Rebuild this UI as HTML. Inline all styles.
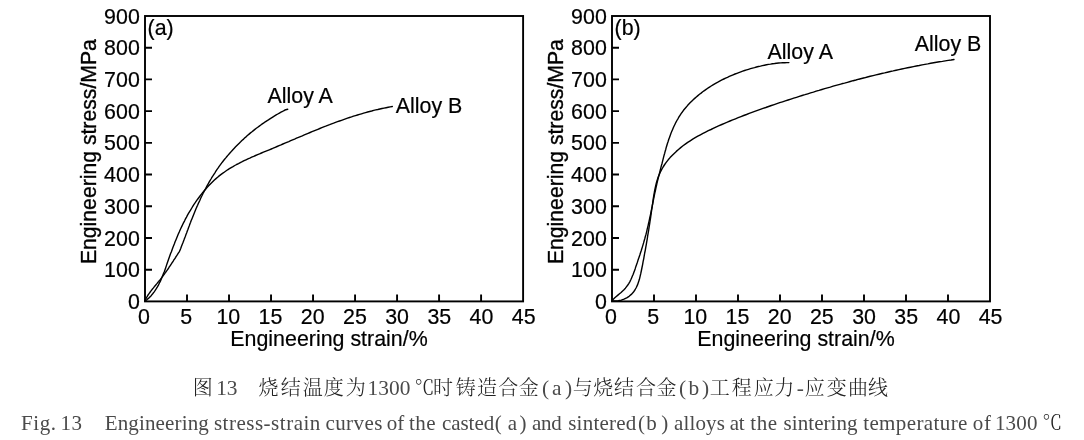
<!DOCTYPE html>
<html lang="zh">
<head>
<meta charset="utf-8">
<title>Fig. 13</title>
<style>
html,body{margin:0;padding:0;background:#fff;}
body{width:1084px;height:440px;overflow:hidden;}
svg{display:block;}
svg .lab text{font-family:"Liberation Sans","Noto Sans CJK SC",sans-serif;font-size:21.4px;fill:#000;stroke:#000;stroke-width:0.2px;}
svg .cn{font-family:"Liberation Serif","Noto Serif CJK SC",serif;font-size:20px;font-weight:300;fill:#222;}
svg .en{font-family:"Liberation Serif","Noto Serif CJK SC",serif;font-size:21px;fill:#4a4a4a;}
svg .dg{font-family:"Liberation Serif","Noto Serif CJK SC",serif;font-size:21.4px;fill:#4a4a4a;}
</style>
</head>
<body>
<svg width="1084" height="440" viewBox="0 0 1084 440" role="img" aria-label="Engineering stress-strain curves">
<rect width="1084" height="440" fill="#fff"/>
<rect x="145.0" y="16.0" width="378.10" height="285.40" fill="none" stroke="#000" stroke-width="1.9"/>
<path d="M187.01,301.4v-7M229.02,301.4v-7M271.03,301.4v-7M313.04,301.4v-7M355.06,301.4v-7M397.07,301.4v-7M439.08,301.4v-7M481.09,301.4v-7M145.0,269.69h7M145.0,237.98h7M145.0,206.27h7M145.0,174.56h7M145.0,142.84h7M145.0,111.13h7M145.0,79.42h7M145.0,47.71h7" fill="none" stroke="#000" stroke-width="1.9"/>
<path d="M145.0,301.0L145.3,299.9 145.8,299.0 146.2,298.1 146.7,297.2 147.3,296.3 147.8,295.4 148.4,294.5 149.0,293.7 149.6,292.8 150.2,292.0 150.8,291.2 151.4,290.3 152.1,289.5 152.7,288.7 153.4,287.9 154.0,287.1 154.7,286.3 155.3,285.5 156.0,284.7 156.7,283.9 157.3,283.1 158.0,282.3 158.7,281.5 159.3,280.7 160.0,279.9 160.6,279.1 161.2,278.3 161.9,277.4 162.5,276.6 163.1,275.8 163.8,274.9 164.4,274.1 165.0,273.2 165.6,272.4 166.2,271.5 166.8,270.7 167.4,269.8 168.0,269.0 168.6,268.1 169.1,267.2 169.7,266.3 170.3,265.5 170.9,264.6 171.5,263.7 172.0,262.8 172.6,262.0 173.2,261.1 173.7,260.2 174.3,259.3 174.9,258.5 175.5,257.6 176.0,256.7 176.6,255.8 177.2,254.9 177.7,254.1 178.3,253.2 179.4,251.6 180.1,249.9 180.8,248.2 181.4,246.5 182.1,244.8 182.8,243.1 183.4,241.4 184.1,239.6 184.7,237.9 185.4,236.2 186.0,234.4 186.7,232.7 187.3,231.0 188.0,229.2 188.6,227.5 189.3,225.8 189.9,224.1 190.6,222.3 191.2,220.6 191.9,218.9 192.6,217.2 193.3,215.4 194.0,213.7 194.7,212.0 195.4,210.3 196.1,208.6 196.8,206.9 197.6,205.2 198.3,203.5 199.1,201.9 199.9,200.2 200.6,198.5 201.4,196.8 202.2,195.2 203.0,193.5 203.9,191.9 204.7,190.3 205.6,188.6 206.4,187.0 207.3,185.4 208.2,183.8 209.1,182.2 210.0,180.6 211.0,179.0 211.9,177.4 212.9,175.9 213.9,174.3 214.9,172.8 215.9,171.2 216.9,169.7 218.0,168.2 219.0,166.7 220.1,165.2 221.2,163.7 222.3,162.2 223.4,160.8 224.6,159.3 225.8,157.9 226.9,156.5 228.1,155.1 229.3,153.7 230.6,152.3 231.8,150.9 233.1,149.5 234.3,148.2 235.6,146.8 236.9,145.5 238.2,144.2 239.5,142.9 240.9,141.6 242.2,140.3 243.6,139.1 244.9,137.8 246.3,136.6 247.7,135.3 249.1,134.1 250.5,132.9 252.0,131.8 253.4,130.6 254.9,129.4 256.3,128.3 257.8,127.2 259.3,126.1 260.8,125.0 262.3,123.9 263.8,122.9 265.3,121.8 266.8,120.8 268.4,119.8 269.9,118.8 271.5,117.8 273.1,116.8 274.6,115.9 276.2,114.9 277.8,114.0 279.4,113.1 281.0,112.2 282.6,111.4 284.2,110.5 285.8,109.7 287.7,109.2" fill="none" stroke="#000" stroke-width="1.4" stroke-linecap="round" stroke-linejoin="round"/>
<path d="M145.0,301.0L146.8,299.8 148.4,298.4 149.9,296.9 151.4,295.4 152.7,293.8 154.0,292.1 155.2,290.4 156.3,288.7 157.4,286.9 158.4,285.1 159.3,283.3 160.3,281.4 161.1,279.5 161.9,277.6 162.7,275.6 163.5,273.6 164.3,271.7 165.0,269.7 165.7,267.7 166.4,265.6 167.1,263.6 167.8,261.6 168.5,259.6 169.2,257.6 169.9,255.6 170.6,253.6 171.4,251.7 172.1,249.7 172.8,247.7 173.6,245.7 174.4,243.8 175.1,241.8 175.9,239.9 176.7,237.9 177.5,236.0 178.3,234.0 179.2,232.1 180.0,230.2 180.9,228.3 181.8,226.4 182.7,224.5 183.6,222.6 184.6,220.8 185.5,218.9 186.5,217.1 187.5,215.2 188.5,213.4 189.6,211.6 190.7,209.8 191.8,208.0 192.9,206.2 194.0,204.4 195.2,202.7 196.4,200.9 197.6,199.2 198.9,197.5 200.2,195.8 201.5,194.1 202.8,192.4 204.2,190.8 205.6,189.2 207.0,187.6 208.4,186.0 209.9,184.5 211.4,183.0 212.9,181.5 214.4,180.0 216.0,178.6 217.6,177.3 219.2,175.9 220.8,174.6 222.5,173.4 224.2,172.2 225.9,171.0 227.6,169.8 229.4,168.7 231.2,167.6 233.0,166.6 234.8,165.5 236.6,164.5 238.5,163.6 240.3,162.6 242.2,161.7 244.1,160.7 246.0,159.8 247.9,158.9 249.8,158.1 251.7,157.2 253.7,156.4 255.6,155.5 257.6,154.7 259.5,153.9 261.5,153.0 263.4,152.2 265.4,151.4 267.3,150.6 269.3,149.8 271.3,149.0 273.2,148.2 275.2,147.3 277.1,146.5 279.1,145.7 281.0,144.9 282.9,144.0 284.9,143.2 286.8,142.4 288.8,141.6 290.7,140.7 292.6,139.9 294.6,139.1 296.5,138.2 298.5,137.4 300.4,136.6 302.3,135.8 304.3,134.9 306.2,134.1 308.1,133.3 310.1,132.5 312.0,131.7 314.0,130.9 315.9,130.1 317.9,129.3 319.8,128.5 321.8,127.7 323.7,126.9 325.7,126.2 327.7,125.4 329.6,124.7 331.6,123.9 333.6,123.2 335.5,122.4 337.5,121.7 339.5,121.0 341.5,120.3 343.5,119.6 345.5,118.9 347.5,118.2 349.5,117.5 351.5,116.9 353.5,116.2 355.5,115.6 357.5,115.0 359.5,114.4 361.5,113.8 363.6,113.2 365.6,112.6 367.6,112.0 369.7,111.5 371.7,111.0 373.7,110.4 375.8,109.9 377.8,109.5 379.9,109.0 382.0,108.5 384.0,108.1 386.1,107.7 388.2,107.3 390.2,106.9 392.3,106.5" fill="none" stroke="#000" stroke-width="1.4" stroke-linecap="round" stroke-linejoin="round"/>
<g class="lab">
<text transform="translate(143.90,323.90) scale(1,1.035)" text-anchor="middle">0</text>
<text transform="translate(186.10,323.90) scale(1,1.035)" text-anchor="middle">5</text>
<text transform="translate(228.30,323.90) scale(1,1.035)" text-anchor="middle">10</text>
<text transform="translate(270.50,323.90) scale(1,1.035)" text-anchor="middle">15</text>
<text transform="translate(312.70,323.90) scale(1,1.035)" text-anchor="middle">20</text>
<text transform="translate(354.90,323.90) scale(1,1.035)" text-anchor="middle">25</text>
<text transform="translate(397.10,323.90) scale(1,1.035)" text-anchor="middle">30</text>
<text transform="translate(439.30,323.90) scale(1,1.035)" text-anchor="middle">35</text>
<text transform="translate(481.50,323.90) scale(1,1.035)" text-anchor="middle">40</text>
<text transform="translate(523.70,323.90) scale(1,1.035)" text-anchor="middle">45</text>
<text transform="translate(139.80,309.00) scale(1,1.035)" text-anchor="end">0</text>
<text transform="translate(139.80,277.29) scale(1,1.035)" text-anchor="end">100</text>
<text transform="translate(139.80,245.58) scale(1,1.035)" text-anchor="end">200</text>
<text transform="translate(139.80,213.87) scale(1,1.035)" text-anchor="end">300</text>
<text transform="translate(139.80,182.16) scale(1,1.035)" text-anchor="end">400</text>
<text transform="translate(139.80,150.44) scale(1,1.035)" text-anchor="end">500</text>
<text transform="translate(139.80,118.73) scale(1,1.035)" text-anchor="end">600</text>
<text transform="translate(139.80,87.02) scale(1,1.035)" text-anchor="end">700</text>
<text transform="translate(139.80,55.31) scale(1,1.035)" text-anchor="end">800</text>
<text transform="translate(139.80,23.60) scale(1,1.035)" text-anchor="end">900</text>
<text transform="translate(230.30,346.20) scale(1,1.035)">Engineering strain/%</text>
<text transform="translate(95.80,264.1) rotate(-90) scale(1,1.035)" style="font-size:21.2px;stroke-width:0.35px">Engineering stress/MPa</text>
<text transform="translate(147.60,35.40) scale(1,1.035)">(a)</text>
<text transform="translate(267.50,103.00) scale(1,1.035)">Alloy A</text>
<text transform="translate(395.80,112.80) scale(1,1.035)">Alloy B</text>
</g>
<rect x="612.0" y="16.0" width="378.00" height="285.40" fill="none" stroke="#000" stroke-width="1.9"/>
<path d="M654.00,301.4v-7M696.00,301.4v-7M738.00,301.4v-7M780.00,301.4v-7M822.00,301.4v-7M864.00,301.4v-7M906.00,301.4v-7M948.00,301.4v-7M612.0,269.69h7M612.0,237.98h7M612.0,206.27h7M612.0,174.56h7M612.0,142.84h7M612.0,111.13h7M612.0,79.42h7M612.0,47.71h7" fill="none" stroke="#000" stroke-width="1.9"/>
<path d="M612.3,301.0L613.3,299.2 614.8,297.8 616.3,296.5 617.9,295.1 619.5,293.8 621.1,292.5 622.6,291.1 624.0,289.7 625.4,288.2 626.6,286.6 627.8,285.0 628.9,283.3 629.9,281.6 630.8,279.8 631.6,278.0 632.4,276.1 633.2,274.2 633.9,272.3 634.6,270.4 635.3,268.4 635.9,266.4 636.6,264.5 637.3,262.5 637.9,260.6 638.6,258.6 639.2,256.7 639.9,254.7 640.5,252.7 641.2,250.8 641.8,248.8 642.4,246.9 643.0,244.9 643.6,242.9 644.1,241.0 644.7,239.0 645.2,237.0 645.8,235.0 646.3,233.1 646.8,231.1 647.2,229.1 647.7,227.1 648.2,225.1 648.6,223.1 649.1,221.1 649.5,219.1 649.9,217.1 650.4,215.1 650.8,213.1 651.2,211.1 651.6,209.1 652.0,207.1 652.4,205.1 652.8,203.1 653.2,201.1 653.6,199.0 654.0,197.0 654.4,195.0 654.8,193.0 655.3,191.0 655.7,189.0 656.1,187.0 656.6,185.0 657.0,183.0 657.5,181.0 658.0,179.0 658.5,177.0 659.0,175.1 659.5,173.1 660.0,171.1 660.5,169.2 661.0,167.2 661.5,165.2 662.1,163.2 662.6,161.2 663.1,159.2 663.6,157.2 664.1,155.2 664.7,153.2 665.2,151.2 665.8,149.2 666.3,147.2 666.9,145.2 667.5,143.3 668.2,141.3 668.8,139.3 669.5,137.4 670.2,135.4 670.9,133.5 671.7,131.6 672.5,129.7 673.3,127.8 674.1,126.0 675.0,124.2 675.9,122.3 676.9,120.5 677.9,118.8 678.9,117.0 680.0,115.3 681.1,113.6 682.3,112.0 683.5,110.3 684.8,108.7 686.1,107.2 687.5,105.6 688.9,104.1 690.3,102.6 691.7,101.2 693.2,99.7 694.7,98.4 696.3,97.0 697.9,95.6 699.5,94.3 701.1,93.1 702.7,91.8 704.4,90.6 706.1,89.4 707.8,88.2 709.5,87.1 711.2,86.0 713.0,84.9 714.7,83.9 716.5,82.8 718.3,81.9 720.1,80.9 721.9,79.9 723.8,79.0 725.6,78.1 727.5,77.3 729.3,76.4 731.2,75.6 733.1,74.8 735.0,74.0 736.9,73.3 738.8,72.6 740.8,71.9 742.7,71.2 744.6,70.5 746.6,69.9 748.5,69.3 750.5,68.7 752.5,68.1 754.5,67.6 756.5,67.0 758.4,66.5 760.4,66.1 762.4,65.6 764.4,65.2 766.5,64.8 768.5,64.4 770.5,64.1 772.5,63.7 774.6,63.5 776.6,63.2 778.6,63.0 780.7,62.9 782.7,62.7 784.8,62.7 786.8,62.6 788.9,62.6" fill="none" stroke="#000" stroke-width="1.4" stroke-linecap="round" stroke-linejoin="round"/>
<path d="M612.3,301.0L615.3,301.0 618.3,300.8 621.3,300.2 624.0,299.2 626.7,297.9 629.1,296.3 631.3,294.4 633.3,292.3 634.9,290.0 636.3,287.5 637.5,284.9 638.5,282.1 639.4,279.3 640.1,276.4 640.8,273.4 641.4,270.5 642.0,267.5 642.6,264.6 643.1,261.7 643.7,258.8 644.2,255.8 644.7,253.0 645.3,250.1 645.8,247.2 646.3,244.3 646.8,241.4 647.3,238.6 647.7,235.7 648.2,232.8 648.7,229.9 649.1,227.1 649.6,224.2 650.0,221.3 650.5,218.4 650.9,215.5 651.3,212.6 651.7,209.7 652.2,206.7 652.6,203.8 653.0,200.8 653.4,197.9 653.9,194.9 654.4,192.0 655.0,189.0 655.6,186.1 656.3,183.2 657.1,180.4 658.0,177.6 659.1,174.9 660.3,172.2 661.6,169.6 663.1,167.0 664.7,164.5 666.4,162.2 668.2,159.8 670.1,157.6 672.1,155.5 674.2,153.4 676.3,151.4 678.5,149.5 680.7,147.6 683.0,145.8 685.3,144.1 687.7,142.4 690.2,140.8 692.7,139.2 695.2,137.7 697.8,136.2 700.4,134.8 703.0,133.4 705.6,132.1 708.3,130.7 711.0,129.5 713.7,128.2 716.4,126.9 719.1,125.7 721.8,124.5 724.5,123.3 727.3,122.2 730.0,121.0 732.7,119.9 735.5,118.8 738.2,117.7 741.0,116.6 743.7,115.5 746.5,114.5 749.2,113.4 752.0,112.4 754.7,111.4 757.5,110.4 760.3,109.4 763.0,108.4 765.8,107.5 768.6,106.5 771.4,105.5 774.2,104.6 776.9,103.7 779.7,102.7 782.5,101.8 785.3,100.9 788.1,100.0 790.9,99.1 793.7,98.2 796.5,97.3 799.3,96.4 802.1,95.5 804.9,94.7 807.8,93.8 810.6,92.9 813.4,92.1 816.2,91.2 819.0,90.4 821.9,89.5 824.7,88.7 827.5,87.9 830.3,87.1 833.2,86.2 836.0,85.4 838.9,84.6 841.7,83.8 844.5,83.1 847.4,82.3 850.2,81.5 853.1,80.7 855.9,80.0 858.8,79.2 861.6,78.5 864.5,77.8 867.4,77.0 870.2,76.3 873.1,75.6 876.0,74.9 878.8,74.2 881.7,73.5 884.6,72.9 887.4,72.2 890.3,71.5 893.2,70.9 896.1,70.2 898.9,69.6 901.8,69.0 904.7,68.4 907.6,67.8 910.5,67.2 913.4,66.6 916.3,66.0 919.2,65.5 922.1,64.9 924.9,64.4 927.8,63.9 930.7,63.3 933.6,62.8 936.5,62.3 939.4,61.8 942.4,61.4 945.3,60.9 948.2,60.4 951.1,60.0 954.0,59.5" fill="none" stroke="#000" stroke-width="1.4" stroke-linecap="round" stroke-linejoin="round"/>
<g class="lab">
<text transform="translate(610.90,323.90) scale(1,1.035)" text-anchor="middle">0</text>
<text transform="translate(653.09,323.90) scale(1,1.035)" text-anchor="middle">5</text>
<text transform="translate(695.28,323.90) scale(1,1.035)" text-anchor="middle">10</text>
<text transform="translate(737.47,323.90) scale(1,1.035)" text-anchor="middle">15</text>
<text transform="translate(779.66,323.90) scale(1,1.035)" text-anchor="middle">20</text>
<text transform="translate(821.84,323.90) scale(1,1.035)" text-anchor="middle">25</text>
<text transform="translate(864.03,323.90) scale(1,1.035)" text-anchor="middle">30</text>
<text transform="translate(906.22,323.90) scale(1,1.035)" text-anchor="middle">35</text>
<text transform="translate(948.41,323.90) scale(1,1.035)" text-anchor="middle">40</text>
<text transform="translate(990.60,323.90) scale(1,1.035)" text-anchor="middle">45</text>
<text transform="translate(606.80,309.00) scale(1,1.035)" text-anchor="end">0</text>
<text transform="translate(606.80,277.29) scale(1,1.035)" text-anchor="end">100</text>
<text transform="translate(606.80,245.58) scale(1,1.035)" text-anchor="end">200</text>
<text transform="translate(606.80,213.87) scale(1,1.035)" text-anchor="end">300</text>
<text transform="translate(606.80,182.16) scale(1,1.035)" text-anchor="end">400</text>
<text transform="translate(606.80,150.44) scale(1,1.035)" text-anchor="end">500</text>
<text transform="translate(606.80,118.73) scale(1,1.035)" text-anchor="end">600</text>
<text transform="translate(606.80,87.02) scale(1,1.035)" text-anchor="end">700</text>
<text transform="translate(606.80,55.31) scale(1,1.035)" text-anchor="end">800</text>
<text transform="translate(606.80,23.60) scale(1,1.035)" text-anchor="end">900</text>
<text transform="translate(697.30,346.20) scale(1,1.035)">Engineering strain/%</text>
<text transform="translate(562.80,264.1) rotate(-90) scale(1,1.035)" style="font-size:21.2px;stroke-width:0.35px">Engineering stress/MPa</text>
<text transform="translate(614.60,35.40) scale(1,1.035)">(b)</text>
<text transform="translate(767.60,58.60) scale(1,1.035)">Alloy A</text>
<text transform="translate(914.80,50.90) scale(1,1.035)">Alloy B</text>
</g>
<text class="cn" y="394.6"><tspan x="192.65">图</tspan> <tspan class="dg" x="216.35" style="letter-spacing:-0.30px">13</tspan> <tspan x="258.40">烧</tspan><tspan x="280.80">结</tspan><tspan x="302.70">温</tspan><tspan x="323.80">度</tspan><tspan x="345.70">为</tspan> <tspan class="dg" x="367.40" style="letter-spacing:0.13px">1300</tspan> <tspan x="414.60">℃</tspan><tspan x="433.00">时</tspan><tspan x="455.70">铸</tspan><tspan x="477.00">造</tspan><tspan x="498.30">合</tspan><tspan x="518.75">金</tspan><tspan class="dg" x="541.90">(</tspan><tspan class="dg" x="551.90">a</tspan><tspan class="dg" x="565.05">)</tspan><tspan x="572.75">与</tspan><tspan x="593.20">烧</tspan><tspan x="614.10">结</tspan><tspan x="635.90">合</tspan><tspan x="656.50">金</tspan><tspan class="dg" x="679.10">(</tspan><tspan class="dg" x="688.40">b</tspan><tspan class="dg" x="702.05">)</tspan><tspan x="709.80">工</tspan><tspan x="731.80">程</tspan><tspan x="753.70">应</tspan><tspan x="774.20">力</tspan><tspan class="dg" x="796.75">-</tspan><tspan x="804.80">应</tspan><tspan x="826.80">变</tspan><tspan x="848.10">曲</tspan><tspan x="868.10">线</tspan></text>
<text class="en" y="429.6"><tspan x="21.00" style="letter-spacing:0.60px">Fig.</tspan> <tspan x="60.40" style="letter-spacing:0.60px">13</tspan> <tspan x="104.70" style="letter-spacing:0.15px">Engineering</tspan> <tspan x="213.90" style="letter-spacing:0.51px">stress-strain</tspan> <tspan x="325.50" style="letter-spacing:0.40px">curves</tspan> <tspan x="386.70" style="letter-spacing:0.00px">of</tspan> <tspan x="409.10" style="letter-spacing:0.40px">the</tspan> <tspan x="441.90" style="letter-spacing:-0.04px">casted</tspan><tspan x="494.70">(</tspan><tspan x="507.65">a</tspan><tspan x="519.60">)</tspan> <tspan x="531.90" style="letter-spacing:-0.25px">and</tspan> <tspan x="568.20" style="letter-spacing:0.23px">sintered</tspan><tspan x="637.90">(</tspan><tspan x="646.25">b</tspan><tspan x="661.25">)</tspan> <tspan x="674.00" style="letter-spacing:0.14px">alloys</tspan> <tspan x="729.85" style="letter-spacing:-0.30px">at</tspan> <tspan x="750.30" style="letter-spacing:0.60px">the</tspan> <tspan x="783.60" style="letter-spacing:0.06px">sintering</tspan> <tspan x="863.20" style="letter-spacing:0.39px">temperature</tspan> <tspan x="972.85" style="letter-spacing:0.60px">of</tspan> <tspan x="994.90" style="letter-spacing:0.20px">1300</tspan> <tspan class="cn" x="1042.25">℃</tspan></text>
</svg>
</body>
</html>
